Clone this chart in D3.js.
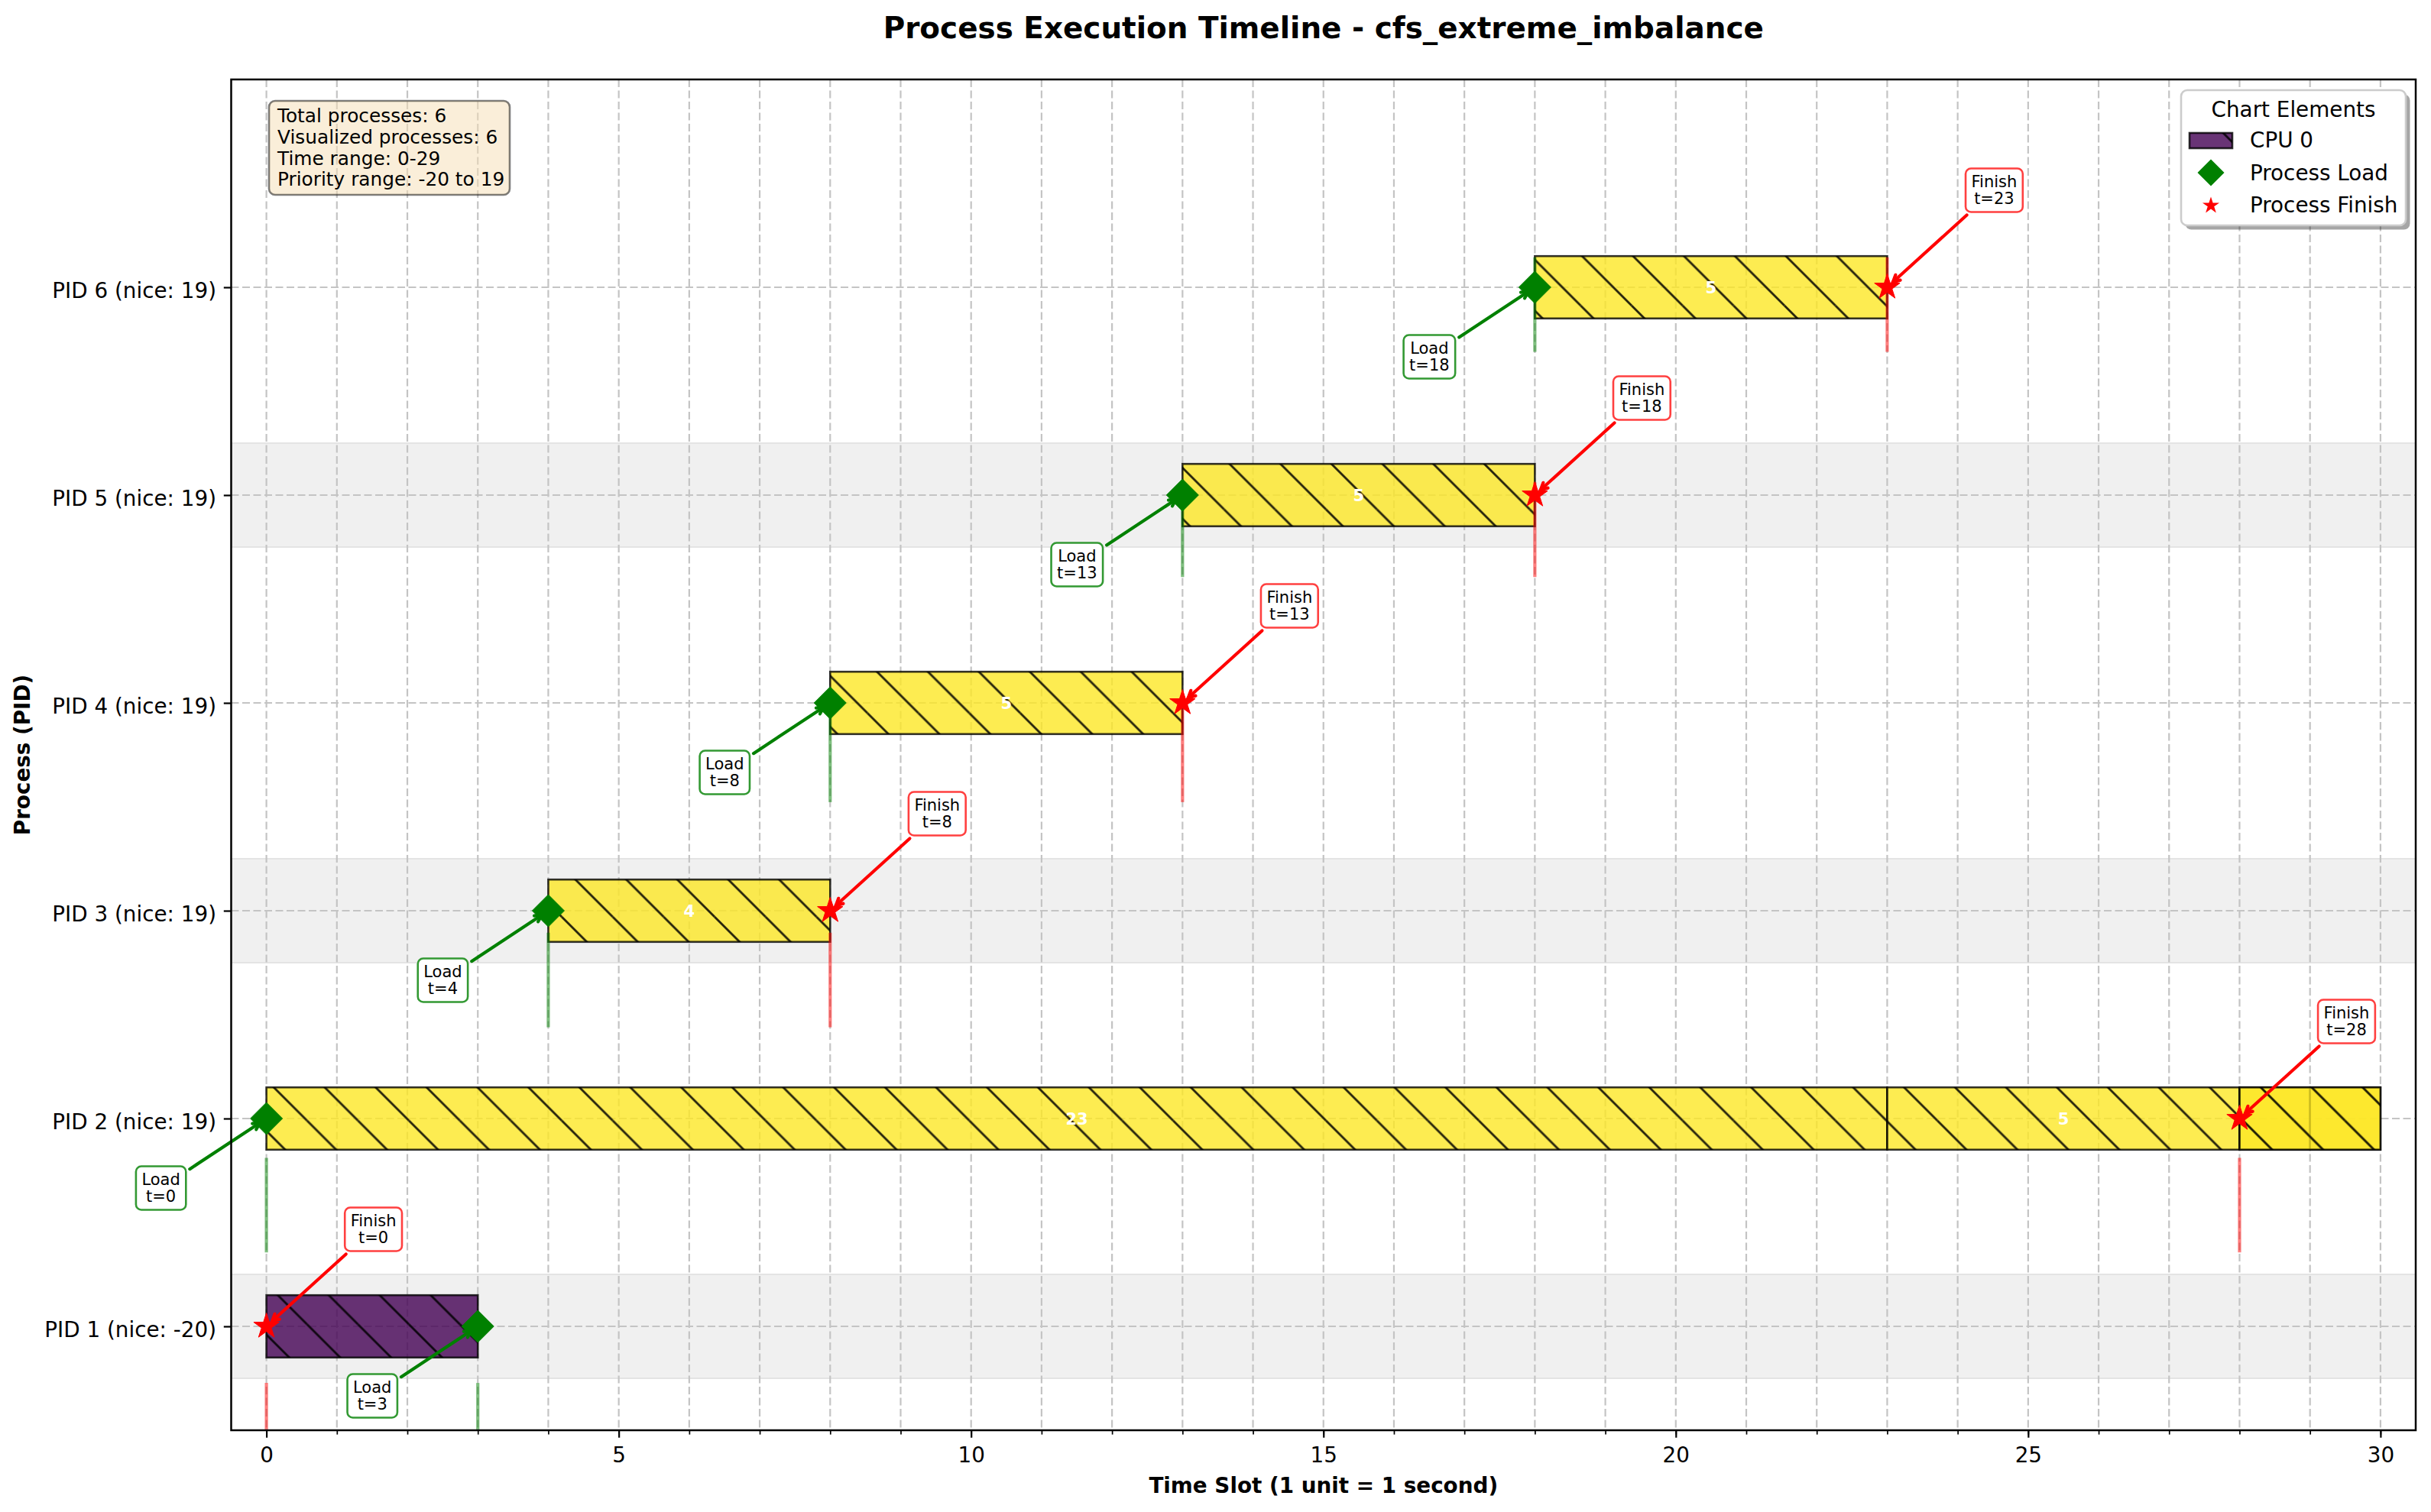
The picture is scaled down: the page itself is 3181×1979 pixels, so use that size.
<!DOCTYPE html>
<html><head><meta charset="utf-8">
<script src="https://cdn.jsdelivr.net/npm/d3@7"></script>
<style>
body{margin:0;background:#fff}
svg text{font-family:"DejaVu Sans",sans-serif}
</style>
</head><body>
<div id="chart"></div>
<script>
// ---------------- data ----------------
const pids = [1, 2, 3, 4, 5, 6];
const niceValues = [-20, 19, 19, 19, 19, 19];
const loadTimes = [3, 0, 4, 8, 13, 18];
const finishTimes = [0, 28, 8, 13, 18, 23];
const segmentPid   = [1, 2, 2, 2, 2, 2, 3, 4, 5, 6];
const segmentStart = [0, 0, 23, 28, 29, 28, 4, 8, 13, 18];
const segmentEnd   = [3, 23, 28, 29, 30, 30, 8, 13, 18, 23];
const processColors = ["#440154", "#fde725", "#fde725", "#fde725", "#fde725", "#fde725"];
const xTickValues = [0, 5, 10, 15, 20, 25, 30];
const infoLines = ["Total processes: 6", "Visualized processes: 6", "Time range: 0-29", "Priority range: -20 to 19"];
const legendTitle = "Chart Elements";
const legendLabels = ["CPU 0", "Process Load", "Process Finish"];
const titleText = "Process Execution Timeline - cfs_extreme_imbalance";
const xLabelText = "Time Slot (1 unit = 1 second)";
const yLabelText = "Process (PID)";

// ---------------- layout ----------------
const W = 3181, H = 1979;
const L = 302.5, R = 3161, T = 104, B = 1872;
const x = d3.scaleLinear().domain([-0.5, 30.5]).range([L, R]);
const y = d3.scaleLinear().domain([-0.5, 6]).range([B, T]);
const frac = d3.scaleLinear().domain([0, 1]).range([B, T]);

const svg = d3.select("#chart").append("svg").attr("width", W).attr("height", H)
  .attr("viewBox", `0 0 ${W} ${H}`);

const defs = svg.append("defs");
const hs = 200 / 3;
const pat = defs.append("pattern").attr("id", "hatch").attr("patternUnits", "userSpaceOnUse")
  .attr("width", hs).attr("height", hs).attr("patternTransform", "translate(1.7,0)");
[[0, 0, hs, hs], [-hs, 0, 0, hs], [hs, 0, 2 * hs, hs], [0, -hs, hs, 0], [0, hs, hs, 2 * hs]].forEach(c => {
  pat.append("line").attr("x1", c[0]).attr("y1", c[1]).attr("x2", c[2]).attr("y2", c[3])
    .attr("stroke", "#000").attr("stroke-width", 2.8).attr("stroke-opacity", 0.85);
});
defs.append("clipPath").attr("id", "plotclip").append("rect")
  .attr("x", L).attr("y", T).attr("width", R - L).attr("height", B - T);

const plot = svg.append("g").attr("clip-path", "url(#plotclip)");

// alternating bands
pids.forEach((p, i) => {
  if (i % 2 === 0) {
    plot.append("rect").attr("x", L).attr("width", R - L)
      .attr("y", y(i + 0.25)).attr("height", y(i - 0.25) - y(i + 0.25))
      .attr("fill", "#f0f0f0").attr("stroke", "#e4e4e4").attr("stroke-width", 2);
  }
});

// grid
const gridInts = d3.range(0, 31);
plot.selectAll(".vgrid").data(gridInts).enter().append("line")
  .attr("x1", d => x(d)).attr("x2", d => x(d)).attr("y1", T).attr("y2", B)
  .attr("stroke", "#c4c4c4").attr("stroke-width", 2.2).attr("stroke-dasharray", "10,4.5");
plot.selectAll(".hgrid").data(pids.map((p, i) => i)).enter().append("line")
  .attr("x1", L).attr("x2", R).attr("y1", d => y(d)).attr("y2", d => y(d))
  .attr("stroke", "#c4c4c4").attr("stroke-width", 2.2).attr("stroke-dasharray", "10,4.5");

// bars
const segs = segmentPid.map((p, k) => ({ p, i: pids.indexOf(p), s: segmentStart[k], e: segmentEnd[k] }));
const barH = 0.3;
segs.forEach(d => {
  const bx = x(d.s), bw = x(d.e) - x(d.s), by = y(d.i + barH / 2), bh = y(d.i - barH / 2) - by;
  plot.append("rect").attr("x", bx).attr("y", by).attr("width", bw).attr("height", bh)
    .attr("fill", processColors[d.i]).attr("fill-opacity", 0.8);
  plot.append("rect").attr("x", bx).attr("y", by).attr("width", bw).attr("height", bh)
    .attr("fill", "url(#hatch)");
  plot.append("rect").attr("x", bx).attr("y", by).attr("width", bw).attr("height", bh)
    .attr("fill", "none").attr("stroke", "#000").attr("stroke-opacity", 0.8).attr("stroke-width", 2.6);
});
segs.forEach(d => {
  const dur = d.e - d.s;
  if (dur >= 4) {
    plot.append("text").attr("x", x((d.s + d.e) / 2)).attr("y", y(d.i) + 7.6)
      .attr("text-anchor", "middle").attr("font-size", 21).attr("font-weight", "bold")
      .attr("fill", "#fff").text(dur);
  }
});

// vertical event lines
pids.forEach((p, i) => {
  const y1 = frac(i / 6 - 0.035), y2 = frac(i / 6 + 0.035);
  plot.append("line").attr("x1", x(loadTimes[i])).attr("x2", x(loadTimes[i])).attr("y1", y1).attr("y2", y2)
    .attr("stroke", "green").attr("stroke-opacity", 0.5).attr("stroke-width", 4.2);
  plot.append("line").attr("x1", x(finishTimes[i])).attr("x2", x(finishTimes[i])).attr("y1", y1).attr("y2", y2)
    .attr("stroke", "red").attr("stroke-opacity", 0.5).attr("stroke-width", 4.2);
});

// markers
function starPath(Ro) {
  const pts = [];
  for (let k = 0; k < 10; k++) {
    const a = -Math.PI / 2 + k * Math.PI / 5;
    const r = k % 2 === 0 ? Ro : Ro * 0.382;
    pts.push([r * Math.cos(a), r * Math.sin(a)]);
  }
  return "M" + pts.map(p => p.join(",")).join("L") + "Z";
}
function diamondPath(r) { return `M0,${-r}L${r},0L0,${r}L${-r},0Z`; }

pids.forEach((p, i) => {
  svg.append("path").attr("d", diamondPath(21)).attr("transform", `translate(${x(loadTimes[i])},${y(i)})`)
    .attr("fill", "green").attr("stroke", "green").attr("stroke-width", 1);
  svg.append("path").attr("d", starPath(17.5)).attr("transform", `translate(${x(finishTimes[i])},${y(i)})`)
    .attr("fill", "red").attr("stroke", "red").attr("stroke-width", 1);
});

// annotations
function annotate(tx, ty, lines, dx, dy, color, edge) {
  const cx = tx + dx, cy = ty + dy;
  const g = svg.append("g");
  const tmp = g.append("text").attr("font-size", 21);
  const widths = lines.map(s => { tmp.text(s); return tmp.node().getComputedTextLength(); });
  tmp.remove();
  const bw = d3.max(widths) + 15, bh = 57;
  // arrow
  const vx = tx - cx, vy = ty - cy, len = Math.hypot(vx, vy), ux = vx / len, uy = vy / len;
  const tEdge = Math.min((bw / 2) / Math.abs(vx), (bh / 2) / Math.abs(vy));
  const sx = cx + vx * tEdge + ux * 6, sy = cy + vy * tEdge + uy * 6;
  const ex = tx - ux * 10, ey = ty - uy * 10;
  g.append("line").attr("x1", sx).attr("y1", sy).attr("x2", ex).attr("y2", ey)
    .attr("stroke", color).attr("stroke-width", 4.2).attr("stroke-linecap", "round");
  const hl = 9, hw = 4.6, nx = -uy, ny = ux;
  g.append("path").attr("d", `M${ex - ux * hl + nx * hw},${ey - uy * hl + ny * hw}L${ex},${ey}L${ex - ux * hl - nx * hw},${ey - uy * hl - ny * hw}`)
    .attr("fill", "none").attr("stroke", color).attr("stroke-width", 4.2).attr("stroke-linecap", "round").attr("stroke-linejoin", "miter");
  g.append("rect").attr("x", cx - bw / 2).attr("y", cy - bh / 2).attr("width", bw).attr("height", bh)
    .attr("rx", 7).attr("fill", "#fff").attr("stroke", edge).attr("stroke-width", 2.6);
  const t = g.append("text").attr("font-size", 21).attr("text-anchor", "middle").attr("fill", "#000");
  t.append("tspan").attr("x", cx).attr("y", cy - 4.2).text(lines[0]);
  t.append("tspan").attr("x", cx).attr("y", cy + 18.2).text(lines[1]);
}
pids.forEach((p, i) => {
  annotate(x(loadTimes[i]), y(i), ["Load", `t=${loadTimes[i]}`], -138, 91, "green", "#339933");
  annotate(x(finishTimes[i]), y(i), ["Finish", `t=${finishTimes[i]}`], 140, -127, "red", "#ff4040");
});

// axes frame
svg.append("rect").attr("x", L).attr("y", T).attr("width", R - L).attr("height", B - T)
  .attr("fill", "none").attr("stroke", "#000").attr("stroke-width", 2.5);

// x axis
const xAxisMinor = d3.axisBottom(x).tickValues(gridInts).tickSize(5.6).tickFormat("");
const gxm = svg.append("g").attr("transform", `translate(0,${B})`).call(xAxisMinor);
gxm.select(".domain").remove();
gxm.selectAll("line").attr("stroke", "#000").attr("stroke-width", 1.7);
const xAxis = d3.axisBottom(x).tickValues(xTickValues).tickSize(9.7).tickFormat(d3.format("d"));
const gx = svg.append("g").attr("transform", `translate(0,${B})`).call(xAxis);
gx.select(".domain").remove();
gx.selectAll("line").attr("stroke", "#000").attr("stroke-width", 2.2);
gx.selectAll("text").attr("y", 42).attr("dy", null).attr("font-size", 27.8)
  .attr("font-family", "DejaVu Sans").attr("fill", "#000");

// y axis
const yAxis = d3.axisLeft(y).tickValues(pids.map((p, i) => i)).tickSize(9.7)
  .tickFormat(i => `PID ${pids[i]} (nice: ${niceValues[i]})`);
const gy = svg.append("g").attr("transform", `translate(${L},0)`).call(yAxis);
gy.select(".domain").remove();
gy.selectAll("line").attr("stroke", "#000").attr("stroke-width", 2.2);
gy.selectAll("text").attr("x", -19.5).attr("dy", 13.4).attr("font-size", 27.8)
  .attr("font-family", "DejaVu Sans").attr("fill", "#000");

// labels & title
svg.append("text").attr("x", (L + R) / 2).attr("y", 50).attr("text-anchor", "middle")
  .attr("font-size", 38.9).attr("font-weight", "bold").text(titleText);
svg.append("text").attr("x", (L + R) / 2).attr("y", 1954).attr("text-anchor", "middle")
  .attr("font-size", 27.8).attr("font-weight", "bold").text(xLabelText);
svg.append("text").attr("transform", `translate(38.5,${(T + B) / 2}) rotate(-90)`).attr("text-anchor", "middle")
  .attr("font-size", 27.8).attr("font-weight", "bold").text(yLabelText);

// info box
svg.append("rect").attr("x", 352).attr("y", 132).attr("width", 315).attr("height", 123).attr("rx", 8)
  .attr("fill", "#f5deb3").attr("fill-opacity", 0.5).attr("stroke", "#000").attr("stroke-opacity", 0.5).attr("stroke-width", 2.6);
infoLines.forEach((s, k) => {
  svg.append("text").attr("x", 363).attr("y", 160 + k * 27.8).attr("font-size", 24.8).attr("fill", "#000").text(s);
});

// legend
const lg = svg.append("g");
lg.append("rect").attr("x", 2859.5).attr("y", 123.5).attr("width", 294).attr("height", 177).attr("rx", 8)
  .attr("fill", "#000").attr("fill-opacity", 0.35);
lg.append("rect").attr("x", 2854).attr("y", 118).attr("width", 294).attr("height", 177).attr("rx", 8)
  .attr("fill", "#fff").attr("stroke", "#cccccc").attr("stroke-width", 2.6);
lg.append("text").attr("x", 3001).attr("y", 153).attr("text-anchor", "middle").attr("font-size", 27.8).text(legendTitle);
lg.append("rect").attr("x", 2865).attr("y", 174).attr("width", 56).attr("height", 20)
  .attr("fill", processColors[0]).attr("fill-opacity", 0.8);
lg.append("rect").attr("x", 2865).attr("y", 174).attr("width", 56).attr("height", 20).attr("fill", "url(#hatch)");
lg.append("rect").attr("x", 2865).attr("y", 174).attr("width", 56).attr("height", 20)
  .attr("fill", "none").attr("stroke", "#000").attr("stroke-opacity", 0.8).attr("stroke-width", 2.6);
lg.append("path").attr("d", diamondPath(17.5)).attr("transform", "translate(2893,226)").attr("fill", "green");
lg.append("path").attr("d", starPath(11.6)).attr("transform", "translate(2893,269)").attr("fill", "red");
legendLabels.forEach((s, k) => {
  lg.append("text").attr("x", 2944).attr("y", 193.3 + k * 42.5).attr("font-size", 27.8).text(s);
});
</script>
</body></html>
